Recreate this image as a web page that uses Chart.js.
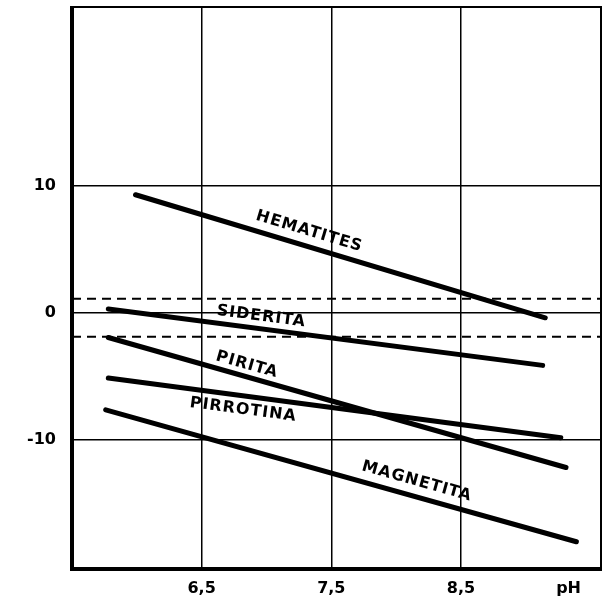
<!DOCTYPE html>
<html>
<head>
<meta charset="utf-8">
<script src="https://cdn.jsdelivr.net/npm/chart.js@4"></script>
<style>
  html, body { margin: 0; padding: 0; background: #fff; }
  #wrap { width: 607px; height: 602px; }
</style>
</head>
<body>
<div id="wrap"><canvas id="c" width="607" height="602"></canvas></div>
<script>
// ---- data ----
const seriesNames = ["HEMATITES", "SIDERITA", "PIRITA", "PIRROTINA", "MAGNETITA"];
const hematitesX = [5.99, 9.15];
const hematitesY = [9.3, -0.4];
const sideritaX = [5.78, 9.13];
const sideritaY = [0.3, -4.15];
const piritaX = [5.78, 9.31];
const piritaY = [-1.95, -12.2];
const pirrotinaX = [5.78, 9.27];
const pirrotinaY = [-5.15, -9.85];
const magnetitaX = [5.76, 9.39];
const magnetitaY = [-7.65, -18.05];
const dashedLevels = [1.1, -1.9];
const xTickValues = [6.5, 7.5, 8.5, 9.33];
const xTickLabels = ["6,5", "7,5", "8,5", "pH"];
const yTickValues = [-10, 0, 10];
const yTickLabels = ["-10", "0", "10"];
const labelX = [7.33, 6.96, 6.85, 6.82, 8.16];
const labelY = [6.4, -0.3, -4.1, -7.65, -13.3];
const xMin = 5.5, xMax = 9.58, yMin = -20.2, yMax = 24.1;

const seriesX = [hematitesX, sideritaX, piritaX, pirrotinaX, magnetitaX];
const seriesY = [hematitesY, sideritaY, piritaY, pirrotinaY, magnetitaY];

const datasets = [];
seriesNames.forEach((n, i) => {
  datasets.push({
    label: n,
    data: seriesX[i].map((x, k) => ({ x: x, y: seriesY[i][k] })),
    showLine: true, borderColor: '#000', borderWidth: 5,
    pointRadius: 0, borderCapStyle: 'round', fill: false
  });
});
dashedLevels.forEach((lv, i) => {
  datasets.push({
    label: 'dash' + i,
    data: [{ x: xMin, y: lv }, { x: xMax, y: lv }],
    showLine: true, borderColor: '#000', borderWidth: 2,
    borderDash: [9, 6], pointRadius: 0, fill: false
  });
});

const FONT = '"DejaVu Sans", "Liberation Sans", sans-serif';

const framePlugin = {
  id: 'frame',
  afterDatasetsDraw(chart) {
    const { ctx, chartArea: a } = chart;
    ctx.save();
    ctx.strokeStyle = '#000';
    ctx.lineWidth = 2;
    ctx.strokeRect(a.left, a.top, a.right - a.left, a.bottom - a.top);
    ctx.lineWidth = 4;
    ctx.beginPath();
    ctx.moveTo(a.left, a.top - 1);
    ctx.lineTo(a.left, a.bottom);
    ctx.lineTo(a.right + 1, a.bottom);
    ctx.stroke();
    ctx.restore();
  }
};

const labelPlugin = {
  id: 'lineLabels',
  afterDatasetsDraw(chart) {
    const { ctx, scales } = chart;
    const xs = scales.x, ys = scales.y;
    ctx.save();
    ctx.fillStyle = '#000';
    ctx.font = 'bold 16px ' + FONT;
    ctx.textAlign = 'center';
    ctx.textBaseline = 'middle';
    try { ctx.letterSpacing = '1px'; } catch (e) {}
    seriesNames.forEach((n, i) => {
      const sx = seriesX[i], sy = seriesY[i];
      const dx = xs.getPixelForValue(sx[1]) - xs.getPixelForValue(sx[0]);
      const dy = ys.getPixelForValue(sy[1]) - ys.getPixelForValue(sy[0]);
      const ang = Math.atan2(dy, dx);
      ctx.save();
      ctx.translate(xs.getPixelForValue(labelX[i]), ys.getPixelForValue(labelY[i]));
      ctx.rotate(ang);
      ctx.fillText(n, 0, 0);
      ctx.restore();
    });
    ctx.restore();
  }
};

new Chart(document.getElementById('c'), {
  type: 'scatter',
  data: { datasets: datasets },
  options: {
    responsive: false,
    animation: false,
    layout: { padding: { top: 7, right: 6, left: 0, bottom: 0 } },
    plugins: { legend: { display: false }, tooltip: { enabled: false } },
    scales: {
      x: {
        type: 'linear', min: xMin, max: xMax,
        afterBuildTicks(s) { s.ticks = xTickValues.map(v => ({ value: v })); },
        afterFit(s) { s.height = 33; s.paddingLeft = 0; s.paddingRight = 0; },
        ticks: {
          color: '#000', padding: 10,
          font: { family: FONT, size: 16, weight: 'bold' },
          callback(v) { const i = xTickValues.indexOf(v); return i >= 0 ? xTickLabels[i] : ''; }
        },
        grid: {
          color(ctx) { return (ctx.tick && ctx.tick.value === 9.33) ? 'rgba(0,0,0,0)' : '#000'; },
          lineWidth: 1.5, drawTicks: false
        },
        border: { display: false }
      },
      y: {
        type: 'linear', min: yMin, max: yMax,
        afterBuildTicks(s) { s.ticks = yTickValues.map(v => ({ value: v })); },
        afterFit(s) { s.width = 72; s.paddingTop = 0; s.paddingBottom = 0; },
        ticks: {
          color: '#000', padding: 16,
          font: { family: FONT, size: 16, weight: 'bold' },
          callback(v) { const i = yTickValues.indexOf(v); return i >= 0 ? yTickLabels[i] : ''; }
        },
        grid: { color: '#000', lineWidth: 1.5, drawTicks: false },
        border: { display: false }
      }
    }
  },
  plugins: [framePlugin, labelPlugin]
});
</script>
</body>
</html>
